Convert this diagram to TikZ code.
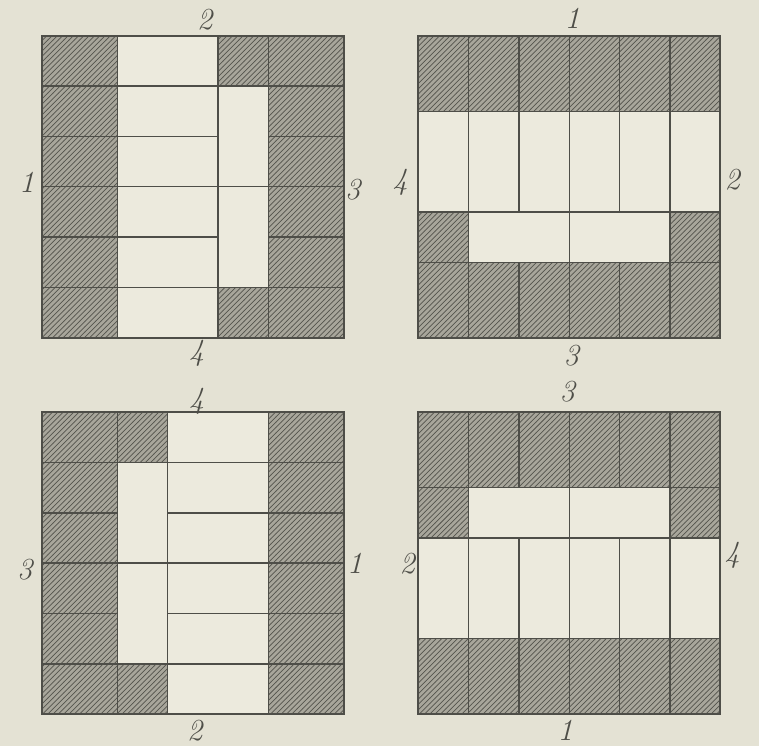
\documentclass[tikz,border=0pt]{standalone}
\usepackage{tikz}
\usetikzlibrary{patterns, positioning}

\definecolor{paper}{RGB}{228,226,212}
\definecolor{cellbg}{RGB}{236,234,221}
\definecolor{hatchbg}{RGB}{168,166,155}
\definecolor{hatchline}{RGB}{84,84,77}
\definecolor{inkline}{RGB}{78,78,72}

\begin{document}
\begin{tikzpicture}[font=\LARGE\itshape,
    hatched/.style={fill=hatchbg, postaction={pattern=north east lines, pattern color=hatchline}},
    joint/.style={draw=inkline, line width=0.8pt},
    rim/.style={draw=inkline, line width=1.1pt},
    frame/.style={minimum size=6cm, inner sep=0pt, outer sep=0pt},
    num/.style={inner sep=0pt, text=inkline}]
    \fill[paper] (0,0) rectangle (15.08,14.82);
    \useasboundingbox (0,0) rectangle (15.08,14.82);

    % one layout, turned for each of the four squares
    \foreach \nm/\cx/\cy/\turn in {tl/3.83/11.11/0, tr/11.31/11.11/-90, bl/3.83/3.63/180, br/11.31/3.63/90} {
        \begin{scope}[shift={(\cx,\cy)}, rotate=\turn]
            \fill[cellbg] (-3,-3) rectangle (3,3);
            \foreach \y in {-3,...,2} {
                \path[hatched] (-3,\y) rectangle (-1.5,\y+1);
                \path[hatched] (1.5,\y) rectangle (3,\y+1);
            }
            \path[hatched] (0.5,2) rectangle (1.5,3);
            \path[hatched] (0.5,-3) rectangle (1.5,-2);
            % joints between the slabs
            \foreach \y in {-2,0,2} \draw[joint] (-3,\y) -- (3,\y);
            \foreach \y in {-1,1} \draw[joint] (-3,\y) -- (0.5,\y) (1.5,\y) -- (3,\y);
            \draw[joint] (-1.5,-3) -- (-1.5,3) (0.5,-3) -- (0.5,3) (1.5,-3) -- (1.5,3);
            \draw[rim] (-3,-3) rectangle (3,3);
        \end{scope}
        \node[frame] (\nm) at (\cx,\cy) {};
    }

    % side numbers
    \node[num] (tl-n) at ([shift={(0.24,0.32)}]tl.north) {2};
    \node[num] (tl-s) at ([shift={(0.08,-0.30)}]tl.south) {4};
    \node[num] (tl-w) at ([shift={(-0.30,0.08)}]tl.west) {1};
    \node[num] (tl-e) at ([shift={(0.18,-0.06)}]tl.east) {3};

    \node[num] (tr-n) at ([shift={(0.06,0.34)}]tr.north) {1};
    \node[num] (tr-s) at ([shift={(0.04,-0.36)}]tr.south) {3};
    \node[num] (tr-w) at ([shift={(-0.36,0.08)}]tr.west) {4};
    \node[num] (tr-e) at ([shift={(0.24,0.14)}]tr.east) {2};

    \node[num] (bl-n) at ([shift={(0.08,0.22)}]bl.north) {4};
    \node[num] (bl-s) at ([shift={(0.04,-0.33)}]bl.south) {2};
    \node[num] (bl-w) at ([shift={(-0.34,-0.12)}]bl.west) {3};
    \node[num] (bl-e) at ([shift={(0.22,0.0)}]bl.east) {1};

    \node[num] (br-n) at ([shift={(-0.04,0.40)}]br.north) {3};
    \node[num] (br-s) at ([shift={(-0.08,-0.33)}]br.south) {1};
    \node[num] (br-w) at ([shift={(-0.22,0.0)}]br.west) {2};
    \node[num] (br-e) at ([shift={(0.24,0.16)}]br.east) {4};
\end{tikzpicture}
\end{document}
